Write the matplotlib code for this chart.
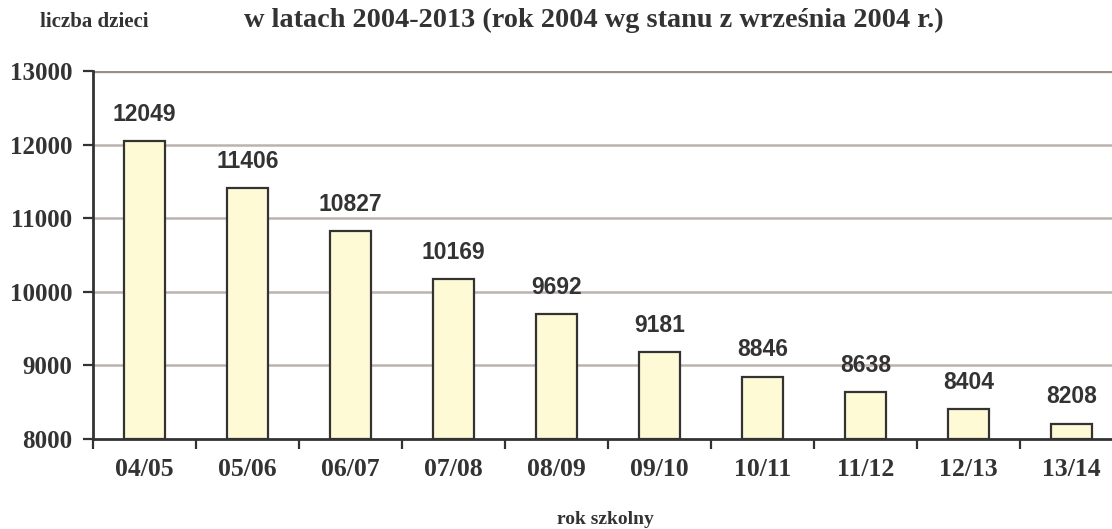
import matplotlib
matplotlib.use("Agg")
import matplotlib.pyplot as plt

categories = ["04/05", "05/06", "06/07", "07/08", "08/09", "09/10", "10/11", "11/12", "12/13", "13/14"]
values = [12049, 11406, 10827, 10169, 9692, 9181, 8846, 8638, 8404, 8208]
yticks = [8000, 9000, 10000, 11000, 12000, 13000]

title = "w latach 2004-2013 (rok 2004 wg stanu z września 2004 r.)"
ylabel = "liczba dzieci"
xlabel = "rok szkolny"

W, H = 1112, 529
fig = plt.figure(figsize=(W / 100, H / 100), dpi=100)
fig.patch.set_facecolor("white")

left, right = 93, 1123
top, bottom = 71, 439
ax = fig.add_axes([left / W, 1 - bottom / H, (right - left) / W, (bottom - top) / H])

txt = "#333333"
serif = ["Liberation Serif", "DejaVu Serif"]
sans = ["Liberation Sans", "DejaVu Sans"]

x = list(range(len(categories)))
ax.bar(x, [v - 8000 for v in values], bottom=8000, width=0.4,
       color="#FFFAD6", edgecolor="#333333", linewidth=1.6, zorder=3)

for xi, v in zip(x, values):
    ax.annotate(str(v), (xi, v), xytext=(0, 11), textcoords="offset points",
                ha="center", va="bottom", fontsize=16.5, fontweight="bold",
                family=sans, color=txt)

ax.set_xlim(-0.5, len(categories) - 0.5)
ax.set_ylim(8000, 13000)
ax.set_yticks(yticks)
ax.set_yticklabels([str(t) for t in yticks], family=serif, fontweight="bold",
                   fontsize=18, color=txt)
ax.set_xticks(x)
ax.set_xticklabels(categories, family=serif, fontweight="bold", fontsize=18.5, color=txt)
ax.tick_params(axis="x", length=0, pad=14)
ax.set_xticks([i - 0.5 for i in range(len(categories) + 1)], minor=True)
ax.tick_params(axis="x", which="minor", length=7, width=1.6, color="#333333", direction="out")
ax.tick_params(axis="y", length=7, width=1.6, color="#333333", pad=8)

for t in yticks[1:-1]:
    ax.axhline(t, color="#bdb2ae", linewidth=1.8, zorder=1)
ax.axhline(13000, color="#9c8e89", linewidth=2.4, zorder=1)

for s in ["top", "right"]:
    ax.spines[s].set_visible(False)
for s in ["left", "bottom"]:
    ax.spines[s].set_color("#333333")
    ax.spines[s].set_linewidth(2)
    ax.spines[s].set_zorder(4)

fig.text(594 / W, 1 - 20 / H, title, ha="center", va="center", family=serif,
         fontweight="bold", fontsize=20.3, color=txt)
fig.text(94 / W, 1 - 22 / H, ylabel, ha="center", va="center", family=serif,
         fontweight="bold", fontsize=15, color=txt)
fig.text(605 / W, 1 - 519 / H, xlabel, ha="center", va="center", family=serif,
         fontweight="bold", fontsize=14, color=txt)

fig.savefig("out.png", dpi=100, facecolor="white")
